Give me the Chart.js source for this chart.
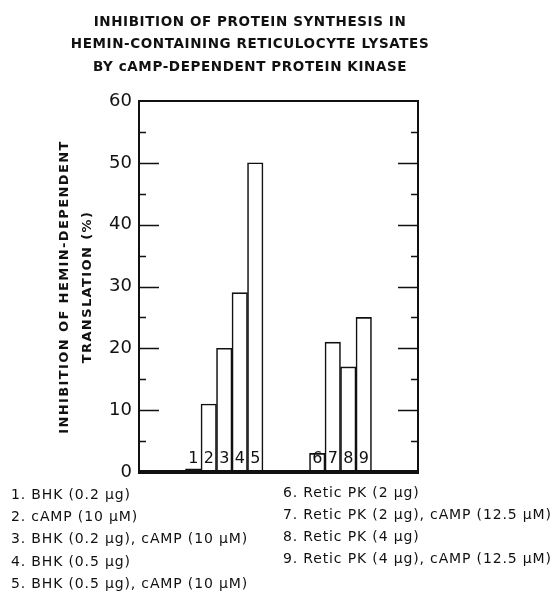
<!DOCTYPE html>
<html>
<head>
<meta charset="utf-8">
<script src="https://cdn.jsdelivr.net/npm/chart.js@4/dist/chart.umd.min.js"></script>
<style>
  html, body { margin: 0; padding: 0; background: #fff; }
  canvas { display: block; }
</style>
</head>
<body>
<canvas id="c" width="558" height="604"></canvas>
<script>
// Bar numbers and inhibition of hemin-dependent translation (%)
const barNumbers = ['1', '2', '3', '4', '5', '6', '7', '8', '9'];
const inhibition = [0.5, 11, 20, 29, 50, 3, 21, 17, 25];
// Bars 1-5 use the BHK kinase, bars 6-9 the reticulocyte kinase
const groupSizes = [5, 4];
const treatmentsLeft = [
  '1. BHK (0.2 \u03bcg)',
  '2. cAMP (10 \u03bcM)',
  '3. BHK (0.2 \u03bcg), cAMP (10 \u03bcM)',
  '4. BHK (0.5 \u03bcg)',
  '5. BHK (0.5 \u03bcg), cAMP (10 \u03bcM)'
];
const treatmentsRight = [
  '6. Retic PK (2 \u03bcg)',
  '7. Retic PK (2 \u03bcg), cAMP (12.5 \u03bcM)',
  '8. Retic PK (4 \u03bcg)',
  '9. Retic PK (4 \u03bcg), cAMP (12.5 \u03bcM)'
];
const titleLines = [
  'INHIBITION OF PROTEIN SYNTHESIS IN',
  'HEMIN-CONTAINING RETICULOCYTE LYSATES',
  'BY cAMP-DEPENDENT PROTEIN KINASE'
];
const yTitleLines = ['INHIBITION OF HEMIN-DEPENDENT', 'TRANSLATION (%)'];

// Lay the bars out on an evenly spaced slot axis with empty slots around the groups
const EMPTY = 3;
const slotLabels = [];
const slotValues = [];
const slotNumber = [];
let k = 0;
const pushEmpty = n => { for (let i = 0; i < n; i++) { slotLabels.push(''); slotValues.push(null); slotNumber.push(null); } };
pushEmpty(EMPTY);
groupSizes.forEach(size => {
  for (let i = 0; i < size; i++, k++) {
    slotLabels.push(barNumbers[k]);
    slotValues.push(inhibition[k]);
    slotNumber.push(barNumbers[k]);
  }
  pushEmpty(EMPTY);
});

const INK = '#111';
const FONT = '"DejaVu Sans", sans-serif';

const decor = {
  id: 'decor',
  afterDraw(chart) {
    const { ctx, chartArea: a } = chart;
    const y = chart.scales.y;
    ctx.save();
    ctx.strokeStyle = INK;
    ctx.fillStyle = INK;

    // frame
    ctx.lineWidth = 2;
    ctx.beginPath();
    ctx.moveTo(a.left, a.bottom);
    ctx.lineTo(a.left, a.top);
    ctx.lineTo(a.right, a.top);
    ctx.lineTo(a.right, a.bottom);
    ctx.stroke();
    ctx.lineWidth = 4;
    ctx.beginPath();
    ctx.moveTo(a.left - 1, a.bottom);
    ctx.lineTo(a.right + 1, a.bottom);
    ctx.stroke();

    // inward tick marks on both vertical sides
    ctx.lineWidth = 1.6;
    y.ticks.forEach(t => {
      if (t.value === y.min || t.value === y.max) return;
      const py = Math.round(y.getPixelForValue(t.value)) + 0.5;
      const len = t.value % 10 === 0 ? 20 : 7;
      ctx.beginPath();
      ctx.moveTo(a.left, py); ctx.lineTo(a.left + len, py);
      ctx.moveTo(a.right, py); ctx.lineTo(a.right - len, py);
      ctx.stroke();
    });

    // bar numbers at the foot of each bar
    const meta = chart.getDatasetMeta(0);
    ctx.font = '16px ' + FONT;
    ctx.textAlign = 'center';
    ctx.textBaseline = 'middle';
    meta.data.forEach((bar, i) => {
      if (slotNumber[i] == null) return;
      ctx.fillText(slotNumber[i], bar.x, a.bottom - 13);
    });

    // title
    ctx.font = 'bold 13.5px ' + FONT;
    ctx.letterSpacing = '0.6px';
    ctx.textAlign = 'center';
    titleLines.forEach((line, i) => ctx.fillText(line, 250, 22 + i * 22.5));

    // y-axis title
    ctx.save();
    ctx.translate(65, 287);
    ctx.rotate(-Math.PI / 2);
    ctx.font = 'bold 13px ' + FONT;
    ctx.letterSpacing = '1.4px';
    ctx.fillText(yTitleLines[0], 0, 0);
    ctx.fillText(yTitleLines[1], 0, 23);
    ctx.restore();

    // treatment key
    ctx.font = '14px ' + FONT;
    ctx.letterSpacing = '0.85px';
    ctx.textAlign = 'left';
    treatmentsLeft.forEach((line, i) => ctx.fillText(line, 11, 495 + i * 22.4));
    treatmentsRight.forEach((line, i) => ctx.fillText(line, 283, 493 + i * 22.2));
    ctx.restore();
  }
};

new Chart(document.getElementById('c'), {
  type: 'bar',
  data: {
    labels: slotLabels,
    datasets: [{
      data: slotValues,
      backgroundColor: '#fff',
      borderColor: INK,
      borderWidth: 1.6,
      barPercentage: 1,
      categoryPercentage: 1
    }]
  },
  options: {
    responsive: false,
    devicePixelRatio: 1,
    animation: false,
    layout: { padding: { left: 0, top: 101, right: 140, bottom: 132 } },
    plugins: { legend: { display: false }, tooltip: { enabled: false }, title: { display: false } },
    scales: {
      x: { display: false },
      y: {
        min: 0,
        max: 60,
        ticks: {
          stepSize: 5,
          padding: 7,
          color: INK,
          font: { family: FONT, size: 18 },
          callback: v => (v % 10 === 0 ? String(v) : '')
        },
        grid: { display: false, drawTicks: false },
        border: { display: false },
        afterFit(scale) { scale.width = 139; }
      }
    }
  },
  plugins: [decor]
});
</script>
</body>
</html>
